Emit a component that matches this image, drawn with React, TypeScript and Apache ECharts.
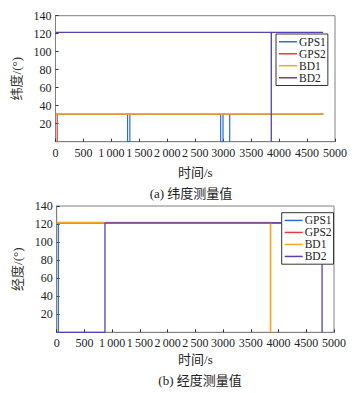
import React, { useEffect, useRef } from "react";
import * as echarts from "echarts";

const seriesNames = ["GPS1", "GPS2", "BD1", "BD2"];
const seriesColors = ["#2b6fce", "#e5383b", "#f5a623", "#5a3fb0"];
const seriesWidths = [1.2, 1.2, 1.7, 1.3];

const xTickLabels = ["0", "500", "1\u2009000", "1\u2009500", "2\u2009000", "2\u2009500", "3000", "3500", "4000", "4500", "5000"];
const yTickLabels = ["0", "20", "40", "60", "80", "100", "120", "140"];

// (a) latitude, [time s, value °]
const latGPS1: [number, number][] = [
  [0, 31], [1289, 31], [1289, 0], [1330, 0], [1330, 31],
  [2955, 31], [2955, 0], [2997, 0], [2997, 31],
  [3116, 31], [3116, 0], [3117, 31], [4790, 31],
];
const latGPS2: [number, number][] = [[30, 0], [30, 31], [4790, 31]];
const latBD1: [number, number][] = [[0, 31], [4790, 31]];
const latBD2: [number, number][] = [[0, 121.5], [3860, 121.5], [3860, 0], [3861, 121.5], [4790, 121.5]];

// (b) longitude
const lonGPS1: [number, number][] = [[30, 0], [30, 121.3], [4790, 121.3]];
const lonGPS2: [number, number][] = [[0, 121.3], [4790, 121.3]];
const lonBD1: [number, number][] = [[0, 121.6], [3856, 121.6], [3856, 0]];
const lonBD2: [number, number][] = [[0, 0], [870, 0], [870, 121.3], [4785, 121.3], [4785, 0]];

const latData = [latGPS1, latGPS2, latBD1, latBD2];
const lonData = [lonGPS1, lonGPS2, lonBD1, lonBD2];

const FONT = "'Liberation Serif', 'Noto Sans CJK SC', serif";

export default function App() {
  const ref = useRef<HTMLDivElement>(null);
  useEffect(() => {
    if (!ref.current) return;
    const chart = echarts.init(ref.current, undefined, { renderer: "svg" });
    const xAxisBase = (gridIndex: number, nameGap: number) => ({
      type: "value" as const,
      gridIndex,
      min: 0,
      max: 5000,
      interval: 500,
      name: "时间/s",
      nameLocation: "middle" as const,
      nameGap,
      nameTextStyle: { fontFamily: FONT, fontSize: 13, color: "#222" },
      axisLine: { show: true, lineStyle: { color: "#808080", width: 1 } },
      axisTick: { show: true, inside: true, length: 3, lineStyle: { color: "#333" } },
      axisLabel: {
        fontFamily: FONT,
        fontSize: 12,
        color: "#222",
        margin: 5,
        formatter: (v: number) => xTickLabels[Math.round(v / 500)] ?? "",
      },
      splitLine: { show: false },
    });
    const yAxisBase = (gridIndex: number, name: string, nameGap: number) => ({
      type: "value" as const,
      gridIndex,
      min: 0,
      max: 140,
      interval: 20,
      name,
      nameLocation: "middle" as const,
      nameGap,
      nameRotate: 90,
      nameTextStyle: { fontFamily: FONT, fontSize: 13, color: "#333" },
      axisLine: { show: true, lineStyle: { color: "#808080", width: 1 } },
      axisTick: { show: true, inside: true, length: 3, lineStyle: { color: "#333" } },
      axisLabel: {
        fontFamily: FONT,
        fontSize: 12,
        color: "#222",
        margin: 4,
        showMinLabel: false,
        formatter: (v: number) => yTickLabels[Math.round(v / 20)] ?? "",
      },
      splitLine: { show: false },
    });
    const mkSeries = (data: [number, number][][], idx: number) =>
      data.map((d, i) => ({
        type: "line" as const,
        name: seriesNames[i],
        xAxisIndex: idx,
        yAxisIndex: idx,
        data: d,
        showSymbol: false,
        symbol: "none",
        color: seriesColors[i],
        lineStyle: { width: seriesWidths[i], color: seriesColors[i] },
      }));
    const legendBase = (left: number, top: number) => ({
      orient: "vertical" as const,
      left,
      top,
      data: seriesNames,
      icon: "rect",
      itemWidth: 18,
      itemHeight: 1.5,
      itemGap: 0.5,
      padding: [2, 2, 2, 3],
      borderColor: "#333",
      borderWidth: 1,
      backgroundColor: "#fff",
      selectedMode: false,
      textStyle: { fontFamily: FONT, fontSize: 11.5, color: "#222", lineHeight: 11.5, padding: [0, 0, 0, -3] },
    });
    chart.setOption({
      animation: false,
      backgroundColor: "#fff",
      grid: [
        { left: 55.5, top: 15.7, width: 279.5, height: 126, show: true, borderColor: "#808080", borderWidth: 1 },
        { left: 56.7, top: 206, width: 277.3, height: 126.3, show: true, borderColor: "#808080", borderWidth: 1 },
      ],
      xAxis: [xAxisBase(0, 24), xAxisBase(1, 21)],
      yAxis: [yAxisBase(0, "纬度/(°)", 29), yAxisBase(1, "经度/(°)", 26)],
      legend: [legendBase(276, 34), legendBase(281.7, 212.7)],
      series: [...mkSeries(latData, 0), ...mkSeries(lonData, 1)],
      graphic: [
        {
          type: "text",
          x: 191,
          y: 193,
          style: { text: "(a) 纬度测量值", font: `13px ${FONT}`, fill: "#222", textAlign: "center", textVerticalAlign: "middle" },
        },
        {
          type: "text",
          x: 200,
          y: 380,
          style: { text: "(b) 经度测量值", font: `13px ${FONT}`, fill: "#222", textAlign: "center", textVerticalAlign: "middle" },
        },
      ],
    });
    return () => chart.dispose();
  }, []);
  return (
    <div
      ref={ref}
      style={{ position: "absolute", left: 0, top: 0, width: 362, height: 393 }}
    />
  );
}
